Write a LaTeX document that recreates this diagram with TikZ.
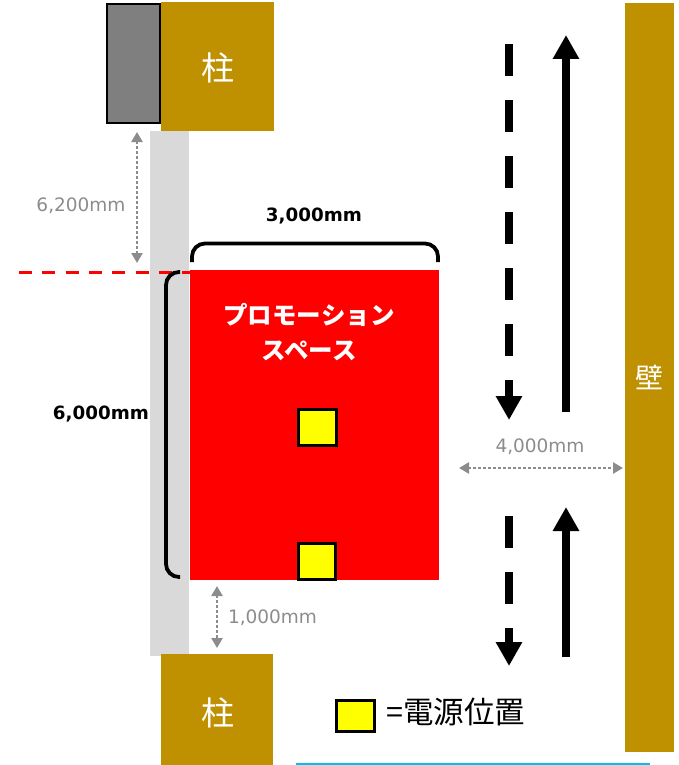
\documentclass[tikz,border=0pt]{standalone}
\usepackage{fontspec}
\setmainfont{DejaVu Sans}
\newfontfamily\jpfont{Noto Sans CJK JP}
\usetikzlibrary{arrows.meta}
\definecolor{gold}{HTML}{BF9000}
\definecolor{strip}{HTML}{D9D9D9}
\definecolor{dimgrey}{HTML}{8C8C8C}
\definecolor{doorgrey}{HTML}{7F7F7F}
\definecolor{plugyellow}{HTML}{FFFF00}
\definecolor{spacered}{HTML}{FF0000}
\definecolor{floorline}{HTML}{00C0F0}
\tikzset{
  block/.style={inner sep=0pt, outer sep=0pt},
  pillar/.style={block, fill=gold, text=white, font=\jpfont\fontsize{33}{33}\selectfont},
  socket/.style={block, fill=plugyellow, draw=black, line width=3pt},
  dimtext/.style={inner sep=0pt, text=dimgrey, font=\fontsize{18.5}{18.5}\selectfont},
  sizetext/.style={inner sep=0pt, font=\bfseries\fontsize{18.3}{18.3}\selectfont},
  dimline/.style={draw=dimgrey, line width=2.5pt, dash pattern=on 2.5pt off 2.5pt, {Triangle[length=10pt,width=11pt]}-{Triangle[length=10pt,width=11pt]}},
  bracket/.style={draw=black, line width=3.8pt, rounded corners=13pt},
  lane/.style={draw=black, line width=8pt, -{Triangle[length=24pt,width=25pt]}},
  lanedash/.style={lane, dash pattern=on 32pt off 24pt}
}
\begin{document}
\begin{tikzpicture}[x=1pt, y=-1pt]
  \useasboundingbox (0,0) rectangle (679,765);
  \node[block, fill=strip, minimum width=39pt, minimum height=525pt] (strip) at (169.5,393.5) {};
  \node[block, fill=doorgrey, draw=black, line width=1.8pt, minimum width=53pt, minimum height=119pt] (door) at (133.5,63.5) {};
  \node[block, fill=gold, minimum width=113pt, minimum height=129pt] (top) at (217.5,66.5) {};
  \node[pillar] (toplabel) at (218,68) {柱};
  \node[block, fill=gold, minimum width=112pt, minimum height=111pt] (bottom) at (217,709.5) {};
  \node[pillar] (bottomlabel) at (218,713) {柱};
  \node[pillar, minimum width=49pt, minimum height=749pt, font=\jpfont\fontsize{28}{28}\selectfont] (wall) at (649.5,377.5) {壁};
  \node[block, fill=spacered, minimum width=249pt, minimum height=310pt] (space) at (314.5,425) {};
  \node[inner sep=0pt, align=center, text=white, font=\jpfont\bfseries\fontsize{24.5}{35}\selectfont] (title) at (309,332) {プロモーション\\スペース};
  \node[socket, minimum width=38pt, minimum height=36pt] (upper) at (317,427.5) {};
  \node[socket, minimum width=37pt, minimum height=36pt] (lower) at (316.5,561) {};
  \node[socket, minimum width=38pt, minimum height=31pt] (key) at (355,716) {};
  \node[inner sep=0pt, anchor=west, font=\jpfont\fontsize{30.5}{30.5}\selectfont] (keytext) at (386,712) {=電源位置};
  \node[sizetext] (width) at (314,216) {3,000mm};
  \node[sizetext] (height) at (101,414) {6,000mm};
  \node[dimtext] (gap) at (81,206) {6,200mm};
  \node[dimtext] (aisle) at (540,447) {4,000mm};
  \node[dimtext] (clear) at (272.5,618) {1,000mm};
  \coordinate (gapa) at (137,132);
  \coordinate (gapb) at (137,263);
  \coordinate (clra) at (217,586);
  \coordinate (clrb) at (217,648);
  \coordinate (aisa) at (459,468);
  \coordinate (aisb) at (623,468);
  \draw[dimline] (gapa) -- (gapb);
  \draw[dimline] (clra) -- (clrb);
  \draw[dimline] (aisa) -- (aisb);
  \coordinate (cuta) at (19,272.5);
  \coordinate (cutb) at (190,272.5);
  \draw[spacered, line width=3pt, dash pattern=on 13pt off 10.3pt] (cuta) -- (cutb);
  \coordinate (wa) at (192,262);
  \coordinate (wb) at (192,243.5);
  \coordinate (wc) at (438,243.5);
  \coordinate (wd) at (438,262);
  \draw[bracket] (wa) -- (wb) -- (wc) -- (wd);
  \coordinate (ha) at (180,272);
  \coordinate (hb) at (166,272);
  \coordinate (hc) at (166,577);
  \coordinate (hd) at (180,577);
  \draw[bracket] (ha) -- (hb) -- (hc) -- (hd);
  \coordinate (downa) at (509,44);
  \coordinate (downb) at (509,420);
  \coordinate (downc) at (509,516);
  \coordinate (downd) at (509,666);
  \coordinate (upa) at (566,412);
  \coordinate (upb) at (566,35);
  \coordinate (upc) at (566,657);
  \coordinate (upd) at (566,507);
  \draw[lanedash] (downa) -- (downb);
  \draw[lanedash] (downc) -- (downd);
  \draw[lane] (upa) -- (upb);
  \draw[lane] (upc) -- (upd);
  \coordinate (linea) at (296,764);
  \coordinate (lineb) at (650,764);
  \draw[floorline, line width=3pt] (linea) -- (lineb);
\end{tikzpicture}
\end{document}
